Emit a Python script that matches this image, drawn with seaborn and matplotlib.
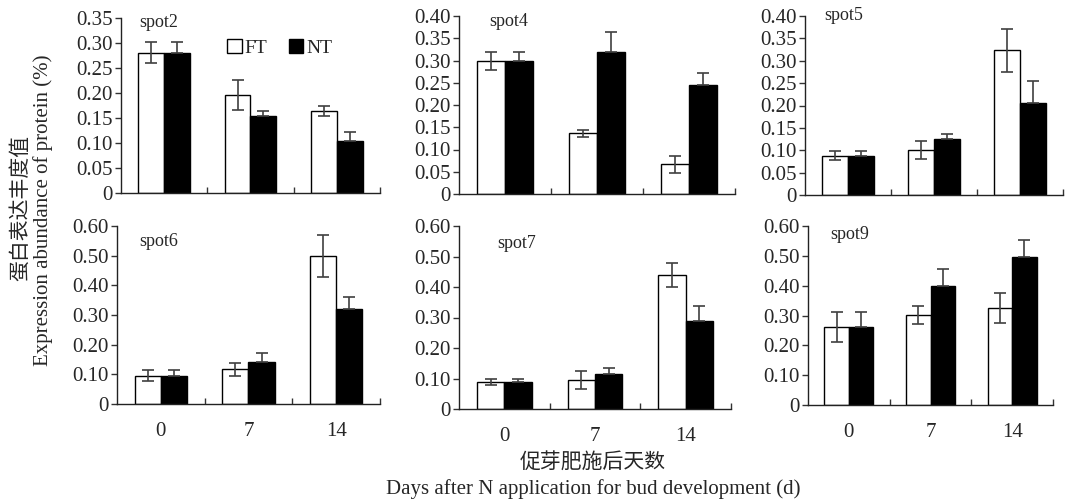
import matplotlib.pyplot as plt
import seaborn as sns
import pandas as pd
from matplotlib.patches import Patch

plt.switch_backend('Agg')

days = ['0', '7', '14']
groups = ['FT', 'NT']

# значения (среднее и ошибка) для каждого пятна
spot2_ft = [0.281, 0.196, 0.164]
spot2_ft_err = [0.020, 0.030, 0.010]
spot2_nt = [0.281, 0.155, 0.104]
spot2_nt_err = [0.020, 0.010, 0.019]

spot4_ft = [0.299, 0.136, 0.067]
spot4_ft_err = [0.020, 0.008, 0.019]
spot4_nt = [0.300, 0.318, 0.244]
spot4_nt_err = [0.019, 0.047, 0.029]

spot5_ft = [0.088, 0.101, 0.323]
spot5_ft_err = [0.010, 0.020, 0.048]
spot5_nt = [0.088, 0.126, 0.205]
spot5_nt_err = [0.010, 0.010, 0.050]

spot6_ft = [0.096, 0.117, 0.499]
spot6_ft_err = [0.020, 0.022, 0.070]
spot6_nt = [0.096, 0.143, 0.321]
spot6_nt_err = [0.020, 0.028, 0.040]

spot7_ft = [0.089, 0.094, 0.439]
spot7_ft_err = [0.009, 0.030, 0.040]
spot7_nt = [0.090, 0.114, 0.288]
spot7_nt_err = [0.007, 0.022, 0.050]

spot9_ft = [0.261, 0.302, 0.325]
spot9_ft_err = [0.050, 0.030, 0.050]
spot9_nt = [0.262, 0.399, 0.496]
spot9_nt_err = [0.050, 0.056, 0.058]

panels = [
    ('spot2', spot2_ft, spot2_ft_err, spot2_nt, spot2_nt_err, 0.35, 0.05),
    ('spot4', spot4_ft, spot4_ft_err, spot4_nt, spot4_nt_err, 0.40, 0.05),
    ('spot5', spot5_ft, spot5_ft_err, spot5_nt, spot5_nt_err, 0.40, 0.05),
    ('spot6', spot6_ft, spot6_ft_err, spot6_nt, spot6_nt_err, 0.60, 0.10),
    ('spot7', spot7_ft, spot7_ft_err, spot7_nt, spot7_nt_err, 0.60, 0.10),
    ('spot9', spot9_ft, spot9_ft_err, spot9_nt, spot9_nt_err, 0.60, 0.10),
]

# пиксельные границы осей (left, right, top, bottom) и позиция подписи spot
boxes = [(121, 380, 18, 193), (459, 735, 16, 194), (805, 1063, 16, 195),
         (117, 380, 226, 404), (459, 731, 226, 409), (808, 1053, 226, 405)]
title_pos = [(0.07, 0.975), (0.11, 0.97), (0.075, 1.0),
             (0.085, 0.915), (0.14, 0.905), (0.09, 0.95)]

sns.set_theme(style='ticks')
plt.rcParams['font.family'] = ['Liberation Serif', 'Noto Sans CJK SC']
plt.rcParams['axes.unicode_minus'] = False

W, H = 1066, 500
fig = plt.figure(figsize=(W / 100, H / 100), dpi=100)

for i, (name, ft, ft_err, nt, nt_err, ymax, step) in enumerate(panels):
    l, r, t, b = boxes[i]
    ax = fig.add_axes([l / W, 1 - b / H, (r - l) / W, (b - t) / H])
    df = pd.DataFrame({
        'day': days * 2,
        'group': [groups[0]] * 3 + [groups[1]] * 3,
        'value': ft + nt,
    })
    sns.barplot(data=df, x='day', y='value', hue='group', order=days,
                hue_order=groups, palette=['white', 'black'],
                edgecolor='black', linewidth=1, width=0.6, gap=0,
                errorbar=None, legend=False, ax=ax)

    # планки погрешностей: у чёрных столбцов видна только верхняя часть
    for k, (cont, err) in enumerate(zip(ax.containers, [ft_err, nt_err])):
        xs = [p.get_x() + p.get_width() / 2 for p in cont]
        ys = [p.get_height() for p in cont]
        yerr = err if k == 0 else [[0] * len(err), err]
        ax.errorbar(xs, ys, yerr=yerr, fmt='none', ecolor='#404040',
                    elinewidth=1.2, capsize=4, capthick=1.2, zorder=3)

    ax.set_xlim(-0.5, 2.5)
    ax.set_ylim(0, ymax)
    yt = [round(step * j, 2) for j in range(int(round(ymax / step)) + 1)]
    ax.set_yticks(yt)
    ax.set_yticklabels(['0' if v == 0 else f'{v:.2f}' for v in yt])
    ax.set_xticks([0, 1, 2])
    ax.set_xticklabels(days if i >= 3 else [])
    ax.set_xticks([0.5, 1.5, 2.5], minor=True)
    ax.tick_params(axis='x', which='major', length=0, pad=13, labelsize=15)
    ax.tick_params(axis='x', which='minor', direction='in', length=4,
                   width=1, color='#333333')
    ax.tick_params(axis='y', direction='out', length=4, width=1,
                   color='#333333', labelsize=15, pad=2)
    ax.set_xlabel('')
    ax.set_ylabel('')
    for s in ['top', 'right']:
        ax.spines[s].set_visible(False)
    for s in ['left', 'bottom']:
        ax.spines[s].set_color('#222222')
        ax.spines[s].set_linewidth(1)

    tx, ty = title_pos[i]
    ax.text(tx, ty, name, transform=ax.transAxes, fontsize=13,
            ha='left', va='center')

    if i == 0:
        handles = [Patch(facecolor='white', edgecolor='black'),
                   Patch(facecolor='black', edgecolor='black')]
        ax.legend(handles, groups, ncol=2, loc='center left',
                  bbox_to_anchor=(0.41, 0.83), frameon=False, fontsize=14,
                  handlelength=0.75, handleheight=0.75, handletextpad=0.15,
                  columnspacing=1.1, borderpad=0, borderaxespad=0)

# общие подписи осей
fig.text(21 / W, 1 - 208 / H, '蛋白表达丰度值', rotation=90,
         ha='center', va='center', fontsize=15)
fig.text(43 / W, 1 - 210 / H, 'Expression abundance of protein (%)',
         rotation=90, ha='center', va='center', fontsize=15)
fig.text(593 / W, 1 - 463 / H, '促芽肥施后天数', ha='center', va='center',
         fontsize=15)
fig.text(593 / W, 1 - 489 / H,
         'Days after N application for bud development (d)',
         ha='center', va='center', fontsize=15)

fig.savefig('out.png', dpi=100)
plt.close(fig)
